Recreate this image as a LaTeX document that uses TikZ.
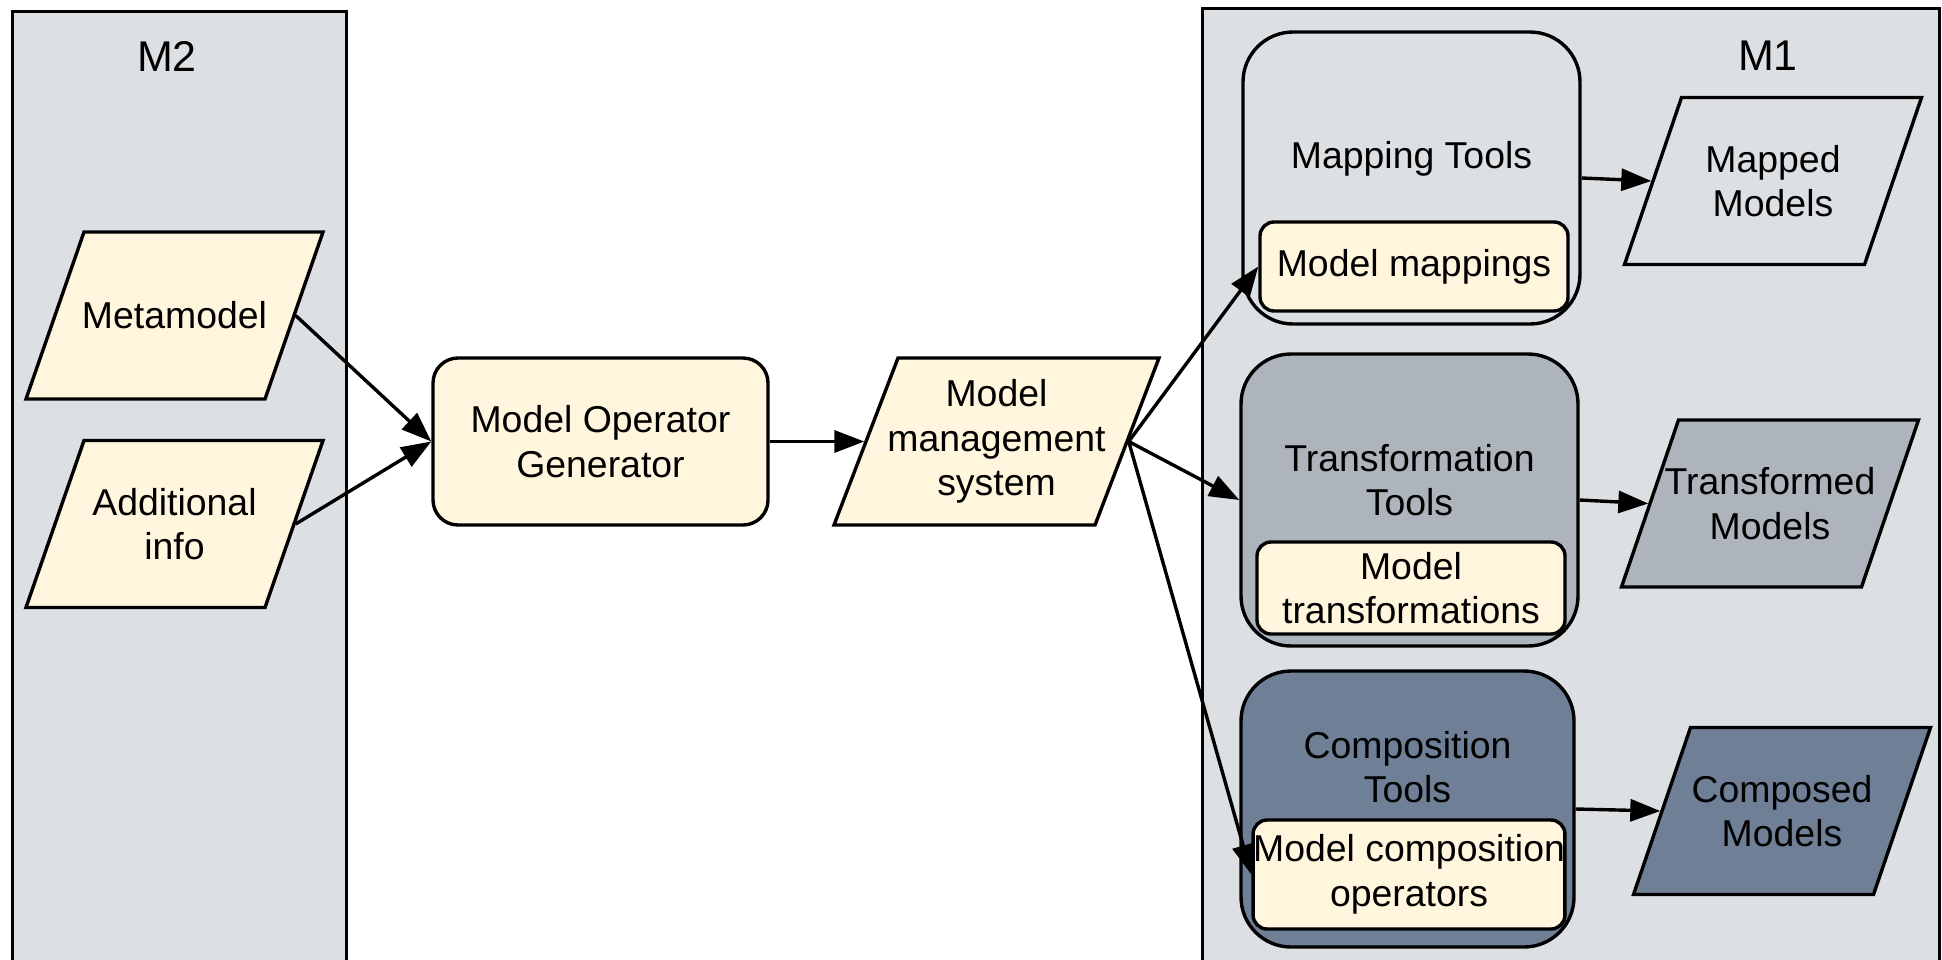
\documentclass[tikz,border=0pt]{standalone}
\usepackage{fontspec}
\setmainfont{Liberation Sans}
\usetikzlibrary{arrows.meta}
\definecolor{panel}{RGB}{221,224,227}
\definecolor{cream}{RGB}{255,246,221}
\definecolor{midgray}{RGB}{173,180,187}
\definecolor{slate}{RGB}{110,127,150}
% parallelogram: name, cx, cy, fill, text, slant offset, overall width
\newcommand\paranode[7]{%
  \draw[fill=#4] ({#2-#7/2+#6},{#3-83.5}) -- ({#2+#7/2},{#3-83.5})
     -- ({#2+#7/2-#6},{#3+83.5}) -- ({#2-#7/2},{#3+83.5}) -- cycle;
  \node[txt, minimum width={#7-#6}, minimum height=167pt, inner sep=0pt] (#1) at (#2,#3) {#5};}
\begin{document}
\begin{tikzpicture}[x=1pt,y=-1pt, line width=3.4pt,
  txt/.style={font=\fontsize{37.4}{44.6}\selectfont, align=center, text=black},
  big/.style={font=\fontsize{43}{50}\selectfont, text=black},
  rbox/.style={draw, rectangle, rounded corners=#1, inner sep=0pt},
  panelbox/.style={draw, fill=panel, rectangle, inner sep=0pt, anchor=north west},
  arr/.style={-{Triangle[length=30pt,width=22pt]}, line width=3.4pt},
]
\clip (0,0) rectangle (1942,959);
\fill[white] (0,0) rectangle (1942,959);

% panels
\node[panelbox, minimum width=334pt, minimum height=1000pt] (m2) at (11,10) {};
\node[panelbox, minimum width=737pt, minimum height=1000pt] (m1) at (1201,7) {};
\node[big] (m2lab) at (167,56) {M2};
\node[big] (m1lab) at (1768,56) {M1};

% left side
\paranode{meta}{174.5}{315.5}{cream}{Metamodel}{58}{297}
\paranode{info}{174.5}{524}{cream}{Additional\\info}{58}{297}
\node[rbox=25pt, fill=cream, minimum width=335pt, minimum height=167pt, txt] (mog) at (600.5,441.5) {Model Operator\\Generator};
\paranode{mms}{996.5}{441.5}{cream}{Model\\management\\system}{64}{325}

% mapping
\node[rbox=50pt, fill=panel, minimum width=337pt, minimum height=292pt] (maptools) at (1411.5,178) {};
\node[txt] (maplab) at (1411.5,159) {Mapping Tools};
\node[rbox=14pt, fill=cream, minimum width=308pt, minimum height=89pt, txt] (mapin) at (1414,266.5) {Model mappings};
\paranode{mapped}{1773}{181}{panel}{Mapped\\Models}{57}{297}

% transformation
\node[rbox=50pt, fill=midgray, minimum width=337pt, minimum height=292pt] (trtools) at (1409.5,500) {};
\node[txt] (trlab) at (1409.5,480) {Transformation\\Tools};
\node[rbox=14pt, fill=cream, minimum width=308pt, minimum height=92pt, txt] (trin) at (1411,588) {Model\\transformations};
\paranode{transformed}{1770}{503.5}{midgray}{Transformed\\Models}{57}{297}

% composition
\node[rbox=50pt, fill=slate, minimum width=333pt, minimum height=276pt] (cotools) at (1407.5,809) {};
\node[txt] (colab) at (1407.5,767) {Composition\\Tools};
\node[rbox=14pt, fill=cream, minimum width=308pt, minimum height=109pt, txt] (coin) at (1409,874.5) {Model composition\\operators};
\paranode{composed}{1782}{811}{slate}{Composed\\Models}{57}{297}

% connectors
\draw[arr] (meta.east) -- (mog.west);
\draw[arr] (info.east) -- (mog.west);
\draw[arr] (mog.east) -- (mms.west);
\draw[arr] (mms.east) -- (mapin.west);
\draw[arr] (mms.east) -- (trtools.west);
\draw[arr] (mms.east) -- (coin.west);
\draw[arr] (maptools.east) -- (mapped.west);
\draw[arr] (trtools.east) -- (transformed.west);
\draw[arr] (cotools.east) -- (composed.west);
\end{tikzpicture}
\end{document}
